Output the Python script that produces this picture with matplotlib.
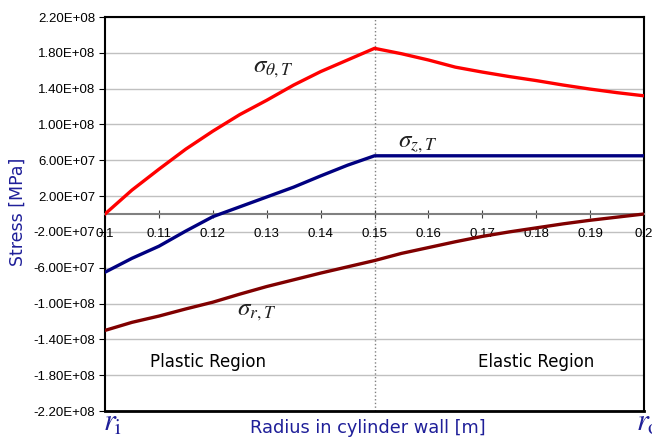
import numpy as np
import matplotlib.pyplot as plt

# Radi (m) i tensions llegides del gràfic (Pa)
radius = [0.100, 0.105, 0.110, 0.115, 0.120, 0.125, 0.130, 0.135, 0.140, 0.145, 0.150,
          0.155, 0.160, 0.165, 0.170, 0.175, 0.180, 0.185, 0.190, 0.195, 0.200]
sigma_theta = [0.0, 2.67e7, 5.0e7, 7.25e7, 9.25e7, 1.11e8, 1.27e8, 1.44e8, 1.59e8, 1.72e8, 1.85e8,
               1.79e8, 1.72e8, 1.64e8, 1.585e8, 1.535e8, 1.49e8, 1.44e8, 1.395e8, 1.355e8, 1.32e8]
sigma_z = [-6.5e7, -4.95e7, -3.6e7, -1.9e7, -3.0e6, 8.0e6, 1.9e7, 3.0e7, 4.25e7, 5.45e7, 6.5e7,
           6.5e7, 6.5e7, 6.5e7, 6.5e7, 6.5e7, 6.5e7, 6.5e7, 6.5e7, 6.5e7, 6.5e7]
sigma_r = [-1.3e8, -1.21e8, -1.14e8, -1.06e8, -9.85e7, -8.95e7, -8.1e7, -7.35e7, -6.6e7, -5.9e7, -5.2e7,
           -4.4e7, -3.75e7, -3.1e7, -2.5e7, -2.0e7, -1.55e7, -1.1e7, -7.0e6, -3.5e6, 0.0]

xticks = [0.1, 0.11, 0.12, 0.13, 0.14, 0.15, 0.16, 0.17, 0.18, 0.19, 0.2]
xticklabels = ['0.1', '0.11', '0.12', '0.13', '0.14', '0.15', '0.16', '0.17', '0.18', '0.19', '0.2']
yticks = [2.2e8, 1.8e8, 1.4e8, 1.0e8, 6e7, 2e7, -2e7, -6e7, -1.0e8, -1.4e8, -1.8e8, -2.2e8]

blau = '#1f1f99'
plt.rcParams['mathtext.fontset'] = 'stix'

fig = plt.figure(figsize=(6.52, 4.41), dpi=100)
ax = fig.add_axes([105/652, 1 - 411/441, 539/652, 394/441])

ax.set_xlim(0.1, 0.2)
ax.set_ylim(-2.2e8, 2.2e8)

# Graella i línia de separació plàstic/elàstic
for yt in yticks:
    ax.axhline(yt, color='#c0c0c0', lw=1, zorder=0)
ax.axvline(0.15, color='#808080', lw=1, ls=':', zorder=1)

# Corbes
ax.plot(radius, sigma_theta, color='#ff0000', lw=2.4, zorder=3)
ax.plot(radius, sigma_z, color='#000080', lw=2.4, zorder=3)
ax.plot(radius, sigma_r, color='#800000', lw=2.4, zorder=3)

# Eixos: l'eix x passa pel zero, el marc es manté
ax.spines['bottom'].set_position(('data', 0))
ax.spines['bottom'].set_color('#808080')
ax.spines['bottom'].set_linewidth(1.5)
ax.axhline(-2.2e8, color='black', lw=2, clip_on=False, zorder=4)
for s in ['left', 'top', 'right']:
    ax.spines[s].set_linewidth(1.5)

ax.set_xticks(xticks)
ax.set_xticklabels(xticklabels, fontsize=9.5, family='Liberation Sans')
ax.tick_params(axis='x', direction='inout', length=6, color='#404040', pad=7)
ax.set_yticks(yticks)
ax.set_yticklabels(['%.2E' % v for v in yticks], fontsize=9.5, family='Liberation Sans')
ax.tick_params(axis='y', direction='out', length=4, pad=3)

# Etiquetes de les corbes
ax.text(0.1275, 1.58e8, r'$\sigma_{\theta,T}$', fontsize=18, color='#202020')
ax.text(0.1543, 7.5e7, r'$\sigma_{z,T}$', fontsize=18, color='#202020')
ax.text(0.1245, -1.13e8, r'$\sigma_{r,T}$', fontsize=18, color='#202020')

ax.text(0.1191, -1.65e8, 'Plastic Region', fontsize=12, family='DejaVu Sans',
        ha='center', va='center', color='black')
ax.text(0.1800, -1.65e8, 'Elastic Region', fontsize=12, family='DejaVu Sans',
        ha='center', va='center', color='black')

# Títols dels eixos
fig.text(368/652, 1 - 428/441, 'Radius in cylinder wall [m]', fontsize=12.8, color=blau,
         ha='center', va='center', family='DejaVu Sans')
fig.text(18/652, 1 - 212/441, 'Stress [MPa]', fontsize=12.5, color=blau, rotation=90,
         ha='center', va='center', family='DejaVu Sans')
fig.text(103/652, 1 - 437/441, r'$r_{\mathrm{i}}$', fontsize=22, color=blau, ha='left', va='bottom')
fig.text(636/652, 1 - 437/441, r'$r_{\mathrm{o}}$', fontsize=22, color=blau, ha='left', va='bottom')

plt.savefig('out.png', dpi=100)
